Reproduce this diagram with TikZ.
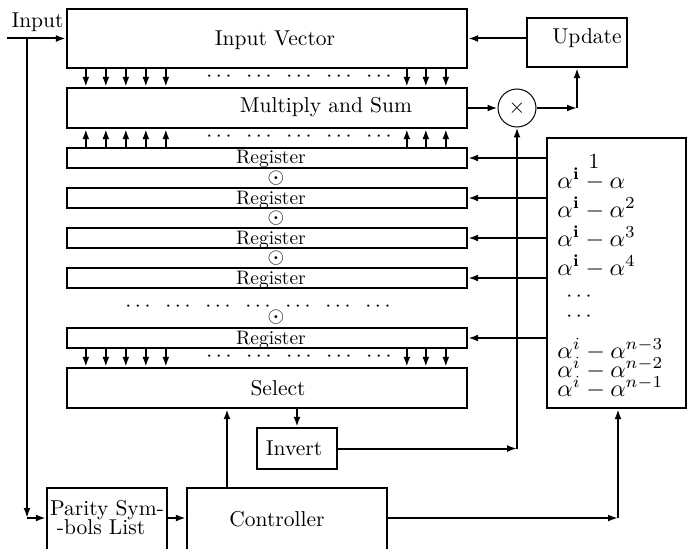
\documentclass[tikz,border=0pt]{standalone}
\usetikzlibrary{arrows.meta}
\begin{document}
\begin{tikzpicture}[x=1pt,y=-1pt,
  bx/.style={draw, line width=2.3pt, inner sep=0pt, rectangle},
  ar/.style={line width=2pt, -{Latex[length=10pt,width=7pt]}},
  lbl/.style={scale=2.15, inner sep=0pt},
  reglbl/.style={scale=1.95, inner sep=0pt, anchor=base},
  alp/.style={scale=2.4, inner sep=0pt, anchor=base west},
  circ/.style={draw, circle, line width=1pt, minimum size=38pt, inner sep=0pt},
]
\useasboundingbox (0,0) rectangle (687,548);
% boxes
\node[bx, minimum width=400pt, minimum height=59pt] (iv) at (267,38.5) {};
\node[bx, minimum width=400pt, minimum height=40pt] (ms) at (267,108) {};
\node[bx, minimum width=400pt, minimum height=20pt] (r1) at (267,158) {};
\node[bx, minimum width=400pt, minimum height=20pt] (r2) at (267,198) {};
\node[bx, minimum width=400pt, minimum height=20pt] (r3) at (267,238) {};
\node[bx, minimum width=400pt, minimum height=20pt] (r4) at (267,278) {};
\node[bx, minimum width=400pt, minimum height=20pt] (r5) at (267,338) {};
\node[bx, minimum width=400pt, minimum height=40pt] (sel) at (267,388) {};
\node[bx, minimum width=100pt, minimum height=49pt] (upd) at (577,42.5) {};
\node[circ] (mul) at (517,108) {};
\node[lbl] at (mul) {$\times$};
\node[bx, minimum width=139pt, minimum height=270pt] (alpha) at (616.5,273) {};
\node[bx, minimum width=80pt, minimum height=41pt] (inv) at (297,448.5) {};
\node[bx, minimum width=120pt, minimum height=72pt] (par) at (107,524) {};
\node[bx, minimum width=200pt, minimum height=72pt] (ctrl) at (287,524) {};
% texts
\node[lbl, anchor=base] at (37.5,28) {Input};
\node[lbl, anchor=base] at (275,46) {Input Vector};
\node[lbl, anchor=base] at (326,113) {Multiply and Sum};
\node[lbl, anchor=base] at (587,44) {Update};
\node[reglbl] at (271,164) {Register};
\node[reglbl] at (271,204) {Register};
\node[reglbl] at (271,244) {Register};
\node[reglbl] at (271,284) {Register};
\node[reglbl] at (271,344) {Register};
\node[lbl, anchor=base] at (278,395) {Select};
\node[lbl, anchor=base] at (294,455) {Invert};
\node[lbl, anchor=base] at (277,526) {Controller};
\node[lbl, anchor=base] at (107,515) {Parity Sym-};
\node[lbl, anchor=base] at (101,534) {-bols List};
% odots
\foreach \y in {178,218,258,317} \node[lbl] at (276,\y) {$\odot$};
% dot rows
\foreach \y in {77,137,357} \foreach \x in {219,259,299,339,379} \node[lbl] at (\x,\y) {$\cdots$};
\foreach \x in {138,178,218,258,298,338,378} \node[lbl] at (\x,307) {$\cdots$};
% alpha list
\node[lbl, anchor=base] at (594,168) {1};
\node[alp] at (557,188) {$\alpha^{\mathbf{i}}-\alpha$};
\node[alp] at (557,217) {$\alpha^{\mathbf{i}}-\alpha^{2}$};
\node[alp] at (557,246) {$\alpha^{\mathbf{i}}-\alpha^{3}$};
\node[alp] at (557,275) {$\alpha^{\mathbf{i}}-\alpha^{4}$};
\node[lbl] at (579,297) {$\cdots$};
\node[lbl] at (579,317) {$\cdots$};
\node[alp] at (557,358) {$\alpha^{i}-\alpha^{n-3}$};
\node[alp] at (557,377) {$\alpha^{i}-\alpha^{n-2}$};
\node[alp] at (557,396) {$\alpha^{i}-\alpha^{n-1}$};
% connectors
\coordinate (inL) at (7,38.5);
\coordinate (inJ) at (27,38.5);
\coordinate (inC) at (27,518);
\draw[ar] (inL) -- (iv.west);
\draw[ar] (inJ) -- (inC);
\draw[ar] (inC) -- (par.west |- inC);
\draw[ar] (par.east |- inC) -- (ctrl.west |- inC);
\foreach \d in {20,40,60,80,100,341,360,380} {
  \draw[ar] ([xshift=\d pt]iv.south west) -- ([xshift=\d pt]ms.north west);
  \draw[ar] ([xshift=\d pt]r1.north west) -- ([xshift=\d pt]ms.south west);
  \draw[ar] ([xshift=\d pt]r5.south west) -- ([xshift=\d pt]sel.north west);
}
\draw[ar] (upd.west |- iv.east) -- (iv.east);
\draw[ar] (ms.east) -- (mul.west);
\coordinate (c1) at (577,108);
\draw[ar] (mul.east) -- (c1);
\draw[ar] (c1) -- (upd.south);
\foreach \r in {r1,r2,r3,r4,r5} \draw[ar] (alpha.west |- \r.east) -- (\r.east);
\draw[ar] (sel.south -| inv.north) -- (inv.north);
\coordinate (cu) at (227,0);
\draw[ar] (ctrl.north -| cu) -- (sel.south -| cu);
\coordinate (c2) at (517,448.5);
\draw[ar] (inv.east) -- (c2);
\draw[ar] (c2) -- (mul.south);
\coordinate (c3) at (618,518);
\draw[ar] (ctrl.east |- c3) -- (c3);
\draw[ar] (c3) -- (alpha.south -| c3);
\end{tikzpicture}
\end{document}
